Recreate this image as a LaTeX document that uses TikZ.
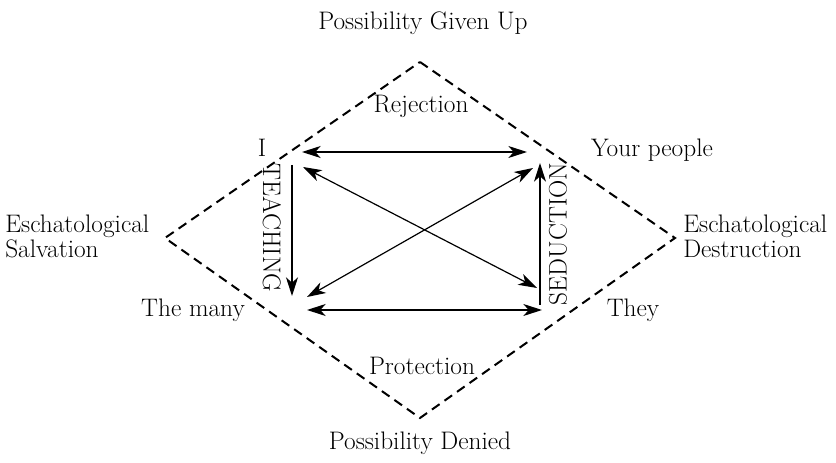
\documentclass[tikz,border=0pt]{standalone}
\usetikzlibrary{arrows.meta}
\begin{document}
\begin{tikzpicture}[x=0.75pt,y=-0.75pt,
  lbl/.style={font=\fontsize{19}{19}\selectfont, inner sep=0pt},
  bl/.style={lbl, anchor=base},
  arr/.style={line width=0.9pt, -{Stealth[length=14pt,width=9pt,inset=4pt]}},
  darr/.style={line width=0.9pt, {Stealth[length=14pt,width=9pt,inset=4pt]}-{Stealth[length=14pt,width=9pt,inset=4pt]}},
  dia/.style={line width=1.5pt, dash pattern=on 7pt off 4.5pt}]
\useasboundingbox (0,0) rectangle (836,463);
% diamond
\coordinate (T) at (420,62);
\coordinate (L) at (165,238);
\coordinate (B) at (420,418);
\coordinate (R) at (675,238);
\draw[dia] (T) -- (R) -- (B) -- (L) -- cycle;
% arrow endpoints
\coordinate (tl) at (302,152);
\coordinate (tr) at (527,152);
\coordinate (bl) at (307,310);
\coordinate (br) at (542,310);
\coordinate (dA1) at (303,167);
\coordinate (dA2) at (537,288);
\coordinate (dB1) at (307,297);
\coordinate (dB2) at (533,168);
\coordinate (lv1) at (292,165);
\coordinate (lv2) at (292,296);
\coordinate (rv1) at (540,305);
\coordinate (rv2) at (540,163);
\draw[darr] (tl) -- (tr);
\draw[darr] (bl) -- (br);
\draw[darr] (dA1) -- (dA2);
\draw[darr] (dB1) -- (dB2);
\draw[arr] (lv1) -- (lv2);
\draw[arr] (rv1) -- (rv2);
% labels
\node[bl] (pgu) at (423,30) {Possibility Given Up};
\node[bl] (rej) at (421,113) {Rejection};
\node[bl] (i) at (262,157) {I};
\node[bl] (yp) at (652,157) {Your people};
\node[lbl, align=left, anchor=base west] (es) at (5,258) {Eschatological\\Salvation};
\node[lbl, align=left, anchor=base west] (ed) at (683,258) {Eschatological\\Destruction};
\node[bl] (tm) at (193,317) {The many};
\node[bl] (they) at (633,317) {They};
\node[bl] (prot) at (422,375) {Protection};
\node[bl] (pd) at (420,450) {Possibility Denied};
\node[lbl, rotate=-90] (teach) at (272,228) {TEACHING};
\node[lbl, rotate=90] (sed) at (558,234) {SEDUCTION};
\end{tikzpicture}
\end{document}
